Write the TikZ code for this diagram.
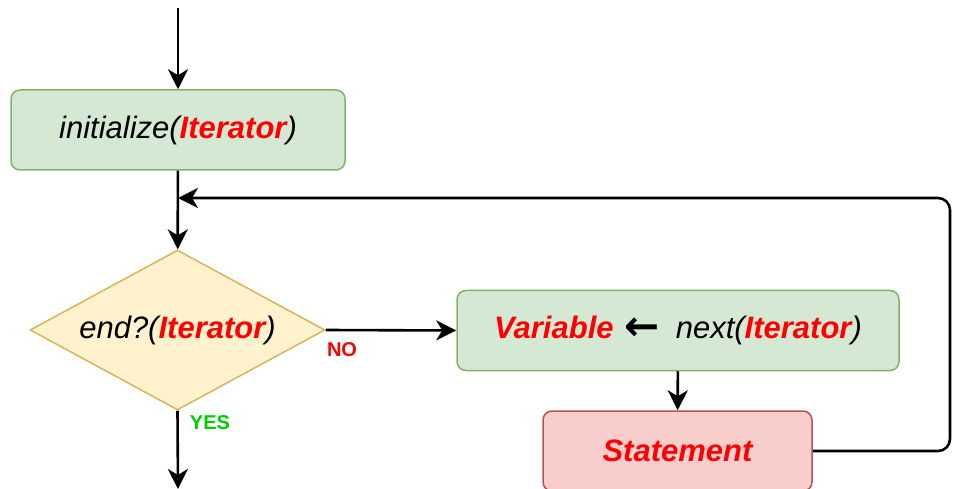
\documentclass[tikz,border=0pt]{standalone}
\usepackage{fontspec}
\setmainfont{Liberation Sans}
\newfontfamily\symbolfont{DejaVu Sans}
\usetikzlibrary{positioning}
\usetikzlibrary{arrows.meta}
\usetikzlibrary{shapes.geometric}

\definecolor{boxgreen}{HTML}{D5E8D4}
\definecolor{edgegreen}{HTML}{82B366}
\definecolor{boxyellow}{HTML}{FFF2CC}
\definecolor{edgeyellow}{HTML}{D6B656}
\definecolor{boxred}{HTML}{F8CECC}
\definecolor{edgered}{HTML}{B85450}
\definecolor{keyred}{HTML}{FF0000}
\definecolor{yesgreen}{HTML}{00CC00}

\newcommand{\iterword}{\textcolor{keyred}{\bfseries Iterator}}
\newcommand{\assignarrow}{{\symbolfont\bfseries\upshape\fontsize{42}{36}\selectfont\raisebox{-2pt}{←}}}

\begin{document}
\begin{tikzpicture}[
    x=1pt, y=-1pt,
    >={Stealth[length=20pt,width=20pt,inset=6pt]},
    every node/.style={font=\fontsize{31}{36}\selectfont\itshape},
    greenbox/.style={rectangle, rounded corners=9pt, draw=edgegreen,
      fill=boxgreen, line width=1.5pt, minimum height=80pt},
    redbox/.style={rectangle, rounded corners=9pt, draw=edgered,
      fill=boxred, line width=1.5pt, minimum height=80pt},
    decision/.style={diamond, aspect=1.84, draw=edgeyellow, fill=boxyellow,
      line width=1.5pt, inner sep=0pt, minimum width=295pt,
      minimum height=160pt},
    flow/.style={line width=2.6pt},
    answer/.style={font=\fontsize{20}{24}\selectfont\bfseries\upshape},
  ]

  \useasboundingbox (0,0) rectangle (954,489);

  % Boxes of the loop
  \node[greenbox, minimum width=334pt] (init) at (178,130)
    {initialize(\iterword)};
  \node[decision] (cond) at (177.5,330)
    {end?(\iterword)};
  \node[greenbox, minimum width=442pt] (next) at (678,330.5)
    {\textcolor{keyred}{\bfseries Variable}\hspace{11pt}\assignarrow\hspace{16pt}next(\iterword)};
  \node[redbox, minimum width=269pt] (stmt) at (677.5,451)
    {\textcolor{keyred}{\bfseries Statement}};

  % Branch labels
  \node[answer, text=keyred]   (no)  at (342,350) {NO};
  \node[answer, text=yesgreen] (yes) at (210,423) {YES};

  % Free ends and bends
  \coordinate (start)      at (178,8);
  \coordinate (exit)       at (178,489);
  \coordinate (merge)      at (178,198);
  \coordinate (loopcorner) at (950,198);

  % Connectors
  \draw[flow,->] (start) -- (init);
  \draw[flow,->] (init) -- (cond);
  \draw[flow,->] (cond.east) -- (next.west);
  \draw[flow,->] (next) -- (stmt);
  \draw[flow,->] (cond.south) -- (exit);
  \draw[flow,->,rounded corners=12pt] (stmt.east) -| (loopcorner) -- (merge);

\end{tikzpicture}
\end{document}
